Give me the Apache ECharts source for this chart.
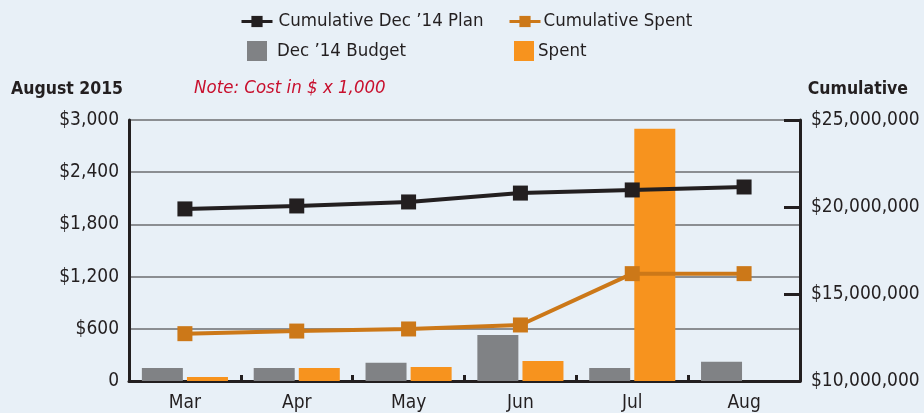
<!DOCTYPE html>
<html>
<head>
<meta charset="utf-8">
<script src="https://cdn.jsdelivr.net/npm/echarts@6/dist/echarts.min.js"></script>
<style>
html, body { margin: 0; padding: 0; background: #e8f0f7; }
#chart { width: 924px; height: 413px; }
</style>
</head>
<body>
<div id="chart"></div>
<script>
var months = ['Mar', 'Apr', 'May', 'Jun', 'Jul', 'Aug'];
var budget = [150, 150, 210, 530, 150, 220];          // Dec '14 Budget, $ x 1,000
var spent = [45, 150, 160, 230, 2900, null];          // Spent, $ x 1,000
var cumPlan = [19890000, 20060000, 20290000, 20800000, 20980000, 21150000];
var cumSpent = [12720000, 12870000, 12990000, 13220000, 16170000, 16170000];

var FONT = '"DejaVu Sans Condensed", "Liberation Sans Narrow", sans-serif';
var DARK = '#231f20';
var colors = {
    plan: '#231f20',
    cumSpent: '#cc7818',
    budget: '#808285',
    spent: '#f7931e'
};

function money(v) {
    return '$' + v.toString().replace(/\B(?=(\d{3})+(?!\d))/g, ',');
}

var chart = echarts.init(document.getElementById('chart'));

// one legend per item so the two rows line up in columns like the original
function legendAt(name, left, top, w, h, textPad, icon) {
    return {
        data: [{ name: name, icon: icon }],
        left: left,
        top: top,
        itemWidth: w,
        itemHeight: h,
        itemGap: 0,
        padding: 0,
        lineStyle: { width: 3 },
        textStyle: { fontFamily: FONT, fontSize: 18.5, color: DARK, padding: [0, 0, 0, textPad] },
        selectedMode: false
    };
}

var option = {
    backgroundColor: '#e8f0f7',
    animation: false,
    title: [
        { text: 'August 2015', left: 6, top: 75, textStyle: { fontFamily: FONT, fontSize: 17.5, fontWeight: 'bold', color: DARK } },
        { text: 'Note: Cost in $ x 1,000', left: 189, top: 74, textStyle: { fontFamily: FONT, fontSize: 18.5, fontStyle: 'italic', fontWeight: 'normal', color: '#c8102e' } },
        { text: 'Cumulative', right: 11, top: 75, textStyle: { fontFamily: FONT, fontSize: 17.5, fontWeight: 'bold', color: DARK } }
    ],
    legend: [
        legendAt("Cumulative Dec \u201914 Plan", 240, 12, 31, 14, 1),
        legendAt('Cumulative Spent', 508, 12, 31, 14, -2),
        legendAt("Dec \u201914 Budget", 247, 41, 20, 20, 5, 'rect'),
        legendAt('Spent', 514, 41, 20, 20, -1, 'rect')
    ],
    grid: { left: 129, right: 124, top: 120, bottom: 32, containLabel: false },
    xAxis: {
        type: 'category',
        data: months,
        axisLine: { lineStyle: { color: DARK, width: 3 } },
        axisTick: { show: true, inside: true, length: 6, lineStyle: { color: DARK, width: 3 } },
        axisLabel: { fontFamily: FONT, fontSize: 19, color: DARK, margin: 13 }
    },
    yAxis: [
        {
            type: 'value',
            min: 0, max: 3000, interval: 600,
            axisLine: { show: true, lineStyle: { color: DARK, width: 3 } },
            axisTick: { show: false },
            splitLine: { show: true, lineStyle: { color: '#6d6e71', width: 1.5 } },
            axisLabel: {
                fontFamily: FONT, fontSize: 19, color: DARK, margin: 10,
                formatter: function (v) { return v === 0 ? '0' : money(v); }
            }
        },
        {
            type: 'value',
            position: 'right',
            min: 10000000, max: 25000000, interval: 5000000,
            axisLine: { show: true, lineStyle: { color: DARK, width: 3 } },
            axisTick: { show: true, inside: true, length: 16, lineStyle: { color: DARK, width: 3 } },
            splitLine: { show: false },
            axisLabel: { fontFamily: FONT, fontSize: 19, color: DARK, margin: 11, formatter: money }
        }
    ],
    series: [
        {
            name: "Dec \u201914 Budget",
            type: 'bar',
            data: budget,
            barWidth: 41,
            barGap: '10%',
            itemStyle: { color: colors.budget },
            z: 2
        },
        {
            name: 'Spent',
            type: 'bar',
            data: spent,
            barWidth: 41,
            barGap: '10%',
            itemStyle: { color: colors.spent },
            z: 2
        },
        {
            name: "Cumulative Dec \u201914 Plan",
            type: 'line',
            yAxisIndex: 1,
            data: cumPlan,
            symbol: 'rect',
            symbolSize: 15,
            lineStyle: { color: colors.plan, width: 4 },
            itemStyle: { color: colors.plan },
            z: 5
        },
        {
            name: 'Cumulative Spent',
            type: 'line',
            yAxisIndex: 1,
            data: cumSpent,
            symbol: 'rect',
            symbolSize: 15,
            lineStyle: { color: colors.cumSpent, width: 4 },
            itemStyle: { color: colors.cumSpent },
            z: 5
        }
    ]
};

chart.setOption(option);
</script>
</body>
</html>
